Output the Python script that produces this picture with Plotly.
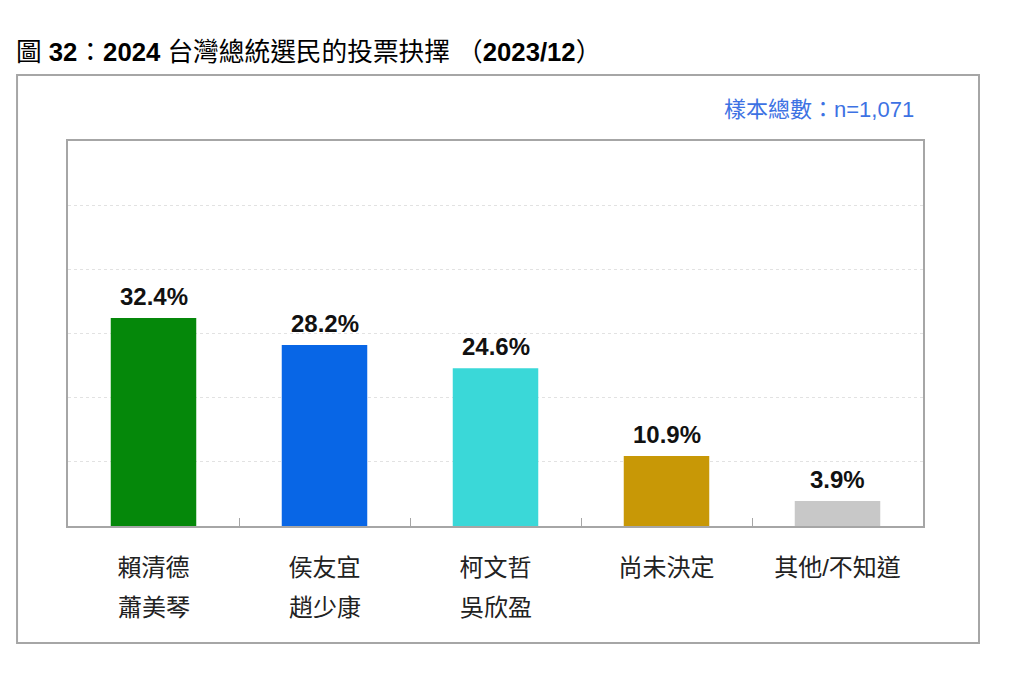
import plotly.graph_objects as go

categories = ["賴清德", "侯友宜", "柯文哲", "尚未決定", "其他/不知道"]
second_line = ["蕭美琴", "趙少康", "吳欣盈", "", ""]
values = [32.4, 28.2, 24.6, 10.9, 3.9]
colors = ["#05880A", "#0866E6", "#3AD8D8", "#C89806", "#C8C8C8"]
y_ticks = [0, 10, 20, 30, 40, 50, 60]

FONT = "Liberation Sans, Arial, Noto Sans CJK TC, sans-serif"

fig = go.Figure()
fig.add_trace(go.Bar(
    x=categories, y=values, marker=dict(color=colors, line=dict(width=0)),
    width=0.5, hoverinfo="skip",
))

for c, v in zip(categories, values):
    fig.add_annotation(x=c, y=v, xref="x", yref="y", text=f"<b>{v:.1f}%</b>",
                       showarrow=False, yanchor="bottom", yshift=6,
                       font=dict(size=24, color="#111111", family=FONT))

for c, s in zip(categories, second_line):
    if s:
        fig.add_annotation(x=c, y=-0.2104, xref="x", yref="paper", text=s,
                           showarrow=False, yanchor="middle",
                           font=dict(size=24, color="#222222", family=FONT))

# sample size
fig.add_annotation(x=0.9918, y=1.083, xref="paper", yref="paper",
                   text="樣本總數：n=1,071", showarrow=False,
                   xanchor="right", yanchor="middle",
                   font=dict(size=22, color="#3D72E3", family=FONT))

# outer frame
fig.add_shape(type="rect", xref="paper", yref="paper",
              x0=-0.0596, x1=1.0655, y0=-0.3039, y1=1.1714,
              line=dict(color="#A6A6A6", width=2), layer="below")

fig.update_layout(
    width=1011, height=696,
    margin=dict(l=60, r=96, t=133, b=178),
    paper_bgcolor="white", plot_bgcolor="white",
    showlegend=False,
    title=dict(text="圖 <b>32</b>：<b>2024</b> 台灣總統選民的投票抉擇 （<b>2023/12</b>）",
               x=8 / 1011, xref="container", xanchor="left",
               y=1 - 44 / 696, yref="container", yanchor="middle",
               font=dict(size=25.7, color="#000000", family=FONT)),
    xaxis=dict(
        type="category", showline=True, linecolor="#A6A6A6", linewidth=2,
        mirror=True, ticks="inside", tickson="boundaries", ticklen=8,
        tickcolor="#A6A6A6", tickwidth=1,
        tickfont=dict(size=24, color="#222222", family=FONT),
        ticklabelstandoff=19, showgrid=False,
    ),
    yaxis=dict(
        range=[0, 60], tickvals=y_ticks, showticklabels=False,
        showgrid=True, gridcolor="#E2E2E2", griddash="dot", gridwidth=1,
        showline=True, linecolor="#A6A6A6", linewidth=2, mirror=True,
        zeroline=False, ticks="",
    ),
)

fig.write_html("out.html")
